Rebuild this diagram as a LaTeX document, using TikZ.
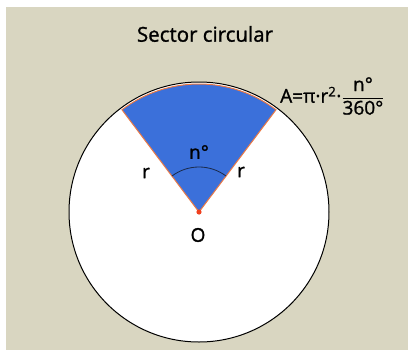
\documentclass[tikz,border=0pt]{standalone}
\usepackage{fontspec}
\setmainfont{Open Sans}[FakeBold=1.2]
\definecolor{panel}{HTML}{D9D6C1}
\definecolor{sectorblue}{HTML}{3B70DA}
\definecolor{edgeorange}{HTML}{EC7A45}
\definecolor{anglenavy}{HTML}{1A2A4A}
\definecolor{dotred}{HTML}{F0401E}
\tikzset{
  lbl/.style={font=\fontsize{19}{22}\selectfont, text=black, inner sep=0pt},
}
\begin{document}
\begin{tikzpicture}[x=1pt,y=-1pt]
\useasboundingbox (0,0) rectangle (408,354);
\fill[white] (0,0) rectangle (408,354);
\fill[panel] (6,7) rectangle (408,350);
\node[lbl, font=\fontsize{20.5}{24}\selectfont] (title) at (205,34) {Sector circular};
\coordinate (O) at (199,212);
\draw[line width=1pt, fill=white] (O) circle[radius=130pt];
\filldraw[fill=sectorblue, draw=edgeorange, line width=1pt] (O) -- ++(127:128pt) arc[start angle=127, end angle=53, radius=128pt] -- cycle;
\draw[anglenavy, line width=0.8pt] ([shift={(127:45pt)}]O) arc[start angle=127, end angle=53, radius=45pt];
\fill[dotred] (O) circle[radius=2.6pt];
\node[lbl] (n) at (199,152) {n°};
\node[lbl] (rl) at (146,173) {r};
\node[lbl] (rr) at (241,172) {r};
\node[lbl] (olab) at (198,235) {O};
\node[lbl, anchor=west] (formula) at (280,96) {A=π·r\textsuperscript{2}·\(\displaystyle\frac{\mbox{n°}}{\mbox{360°}}\)};
\end{tikzpicture}
\end{document}
